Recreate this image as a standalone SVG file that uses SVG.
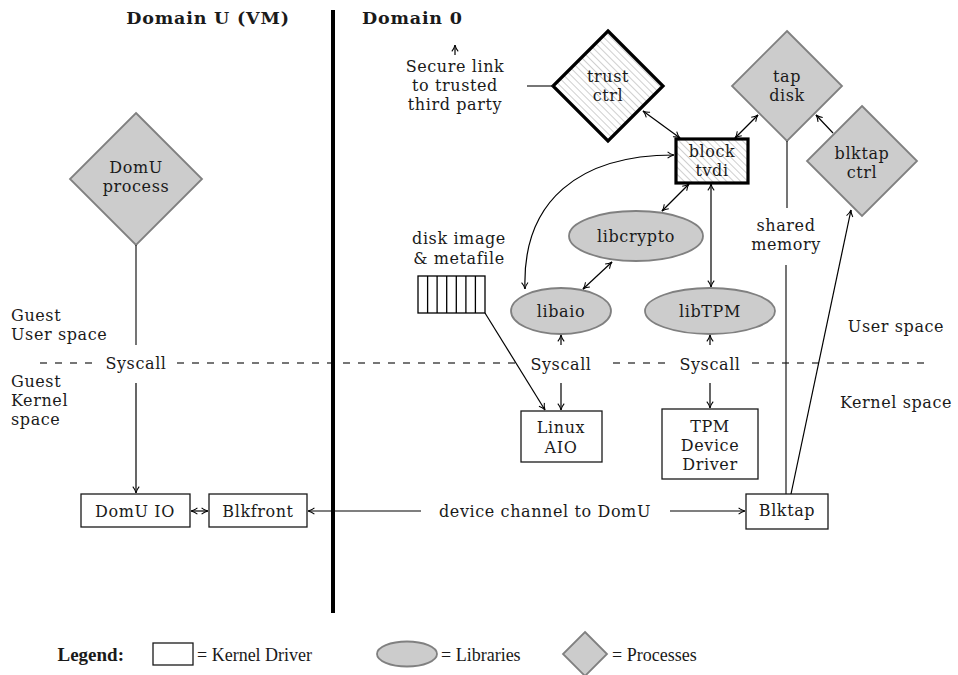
<svg xmlns="http://www.w3.org/2000/svg" width="958" height="675" viewBox="0 0 958 675">
  <style>
    text { font-family: "DejaVu Serif", "Liberation Serif", serif; font-size: 16px; letter-spacing: 0.6px; fill: #1a1a1a; }
    .c { text-anchor: middle; }
    .title { font-weight: bold; font-size: 17.5px; letter-spacing: 0.8px; }
    .leg { font-family: "Liberation Serif", "DejaVu Serif", serif; font-size: 18px; letter-spacing: 0; }
    .legb { font-family: "Liberation Serif", "DejaVu Serif", serif; font-size: 19px; font-weight: bold; letter-spacing: 0; text-anchor: end; }
    .proc { fill: #cccccc; stroke: #808080; stroke-width: 1.8; }
    .lib { fill: #cccccc; stroke: #808080; stroke-width: 1.8; }
    .drv { fill: #ffffff; stroke: #1a1a1a; stroke-width: 1.3; }
    .hatched { fill: url(#hatch); stroke: #000000; stroke-width: 3.2; }
    .conn { fill: none; stroke: #000000; stroke-width: 1.2; }
    .plain { fill: none; stroke: #1a1a1a; stroke-width: 1.2; }
    .both { marker-start: url(#tip); marker-end: url(#tip); }
    .fwd { marker-end: url(#tip); }
    .dash { fill: none; stroke: #4a4a4a; stroke-width: 1.5; stroke-dasharray: 7 8; }
  </style>
  <defs>
    <marker id="tip" viewBox="0 0 10 10" refX="9.5" refY="5" markerUnits="userSpaceOnUse" markerWidth="8" markerHeight="8" orient="auto-start-reverse">
      <path d="M1.5,1 Q5,4 9.5,5 Q5,6 1.5,9" fill="none" stroke="#000" stroke-width="1.3"/>
    </marker>
    <pattern id="hatch" patternUnits="userSpaceOnUse" width="5" height="5" patternTransform="rotate(-45)">
      <rect width="5" height="5" fill="#ffffff"/>
      <line x1="0" y1="0" x2="0" y2="5" stroke="#a0a0a0" stroke-width="1"/>
    </pattern>
  </defs>

  <rect width="958" height="675" fill="#ffffff"/>

  <!-- domain headings and separator -->
  <text class="title c" x="208" y="24">Domain U (VM)</text>
  <text class="title" x="362" y="24">Domain 0</text>
  <line x1="333" y1="10" x2="333" y2="613" stroke="#000" stroke-width="4"/>

  <!-- user / kernel boundary -->
  <g id="syscall-boundary">
    <line class="dash" x1="40" y1="363" x2="100" y2="363"/>
    <line class="dash" x1="177" y1="363" x2="331" y2="363"/>
    <line class="dash" x1="343" y1="363" x2="520" y2="363"/>
    <line class="dash" x1="613" y1="363" x2="665" y2="363"/>
    <line class="dash" x1="752" y1="363" x2="925" y2="363"/>
    <text class="c" x="136" y="369">Syscall</text>
    <text class="c" x="561" y="370">Syscall</text>
    <text class="c" x="710" y="370">Syscall</text>
  </g>

  <!-- region labels -->
  <text x="11" y="321">Guest</text>
  <text x="11" y="340">User space</text>
  <text x="11" y="387">Guest</text>
  <text x="11" y="406">Kernel</text>
  <text x="11" y="425">space</text>
  <text class="c" x="896" y="332">User space</text>
  <text class="c" x="896" y="408">Kernel space</text>

  <!-- nodes -->
  <g id="domu-process">
    <polygon class="proc" points="136,113 202,179 136,245 70,179"/>
    <text class="c" x="136" y="173">DomU</text>
    <text class="c" x="136" y="192">process</text>
  </g>

  <g id="trust-ctrl">
    <polygon class="hatched" points="608,31 663,86 608,141 553,86"/>
    <text class="c" x="608" y="82">trust</text>
    <text class="c" x="608" y="101">ctrl</text>
  </g>

  <g id="secure-link">
    <text class="c" x="455" y="72">Secure link</text>
    <text class="c" x="455" y="91">to trusted</text>
    <text class="c" x="455" y="110">third party</text>
  </g>

  <g id="tap-disk">
    <polygon class="proc" points="787,31 842,86 787,141 732,86"/>
    <text class="c" x="787" y="82">tap</text>
    <text class="c" x="787" y="101">disk</text>
  </g>

  <g id="blktap-ctrl">
    <polygon class="proc" points="862,106 917,161 862,216 807,161"/>
    <text class="c" x="862" y="159">blktap</text>
    <text class="c" x="862" y="178">ctrl</text>
  </g>

  <g id="block-tvdi">
    <rect class="hatched" x="676" y="139" width="72" height="44" stroke-width="3.6"/>
    <text class="c" x="712" y="157">block</text>
    <text class="c" x="712" y="176">tvdi</text>
  </g>

  <g id="libcrypto">
    <ellipse class="lib" cx="636" cy="236" rx="67" ry="25"/>
    <text class="c" x="636" y="242">libcrypto</text>
  </g>

  <g id="libaio">
    <ellipse class="lib" cx="561" cy="311" rx="50" ry="23"/>
    <text class="c" x="561" y="317">libaio</text>
  </g>

  <g id="libtpm">
    <ellipse class="lib" cx="710" cy="311" rx="65" ry="23"/>
    <text class="c" x="710" y="317">libTPM</text>
  </g>

  <g id="disk-image">
    <text class="c" x="459" y="244">disk image</text>
    <text class="c" x="459" y="264">&amp; metafile</text>
    <rect x="418" y="276" width="67" height="37" fill="#fff" stroke="#000" stroke-width="1.3"/>
    <path d="M427.6,276V313M437.1,276V313M446.7,276V313M456.3,276V313M465.9,276V313M475.4,276V313" stroke="#000" stroke-width="1.3"/>
  </g>

  <g id="linux-aio">
    <rect class="drv" x="521" y="411" width="81" height="51"/>
    <text class="c" x="561" y="433">Linux</text>
    <text class="c" x="561" y="453">AIO</text>
  </g>

  <g id="tpm-driver">
    <rect class="drv" x="662" y="409" width="96" height="70"/>
    <text class="c" x="710" y="432">TPM</text>
    <text class="c" x="710" y="451">Device</text>
    <text class="c" x="710" y="470">Driver</text>
  </g>

  <g id="domu-io">
    <rect class="drv" x="81" y="494" width="109" height="33"/>
    <text class="c" x="135" y="517">DomU IO</text>
  </g>

  <g id="blkfront">
    <rect class="drv" x="209" y="494" width="98" height="33"/>
    <text class="c" x="258" y="517">Blkfront</text>
  </g>

  <g id="blktap">
    <rect class="drv" x="746" y="494" width="82" height="35"/>
    <text class="c" x="787" y="516">Blktap</text>
  </g>

  <!-- connectors -->
  <g id="connectors">
    <line class="conn fwd" x1="455" y1="55" x2="455" y2="45"/>
    <line class="plain" x1="527" y1="86" x2="553" y2="86"/>
    <line class="conn both" x1="643" y1="111" x2="680" y2="138"/>
    <line class="conn both" x1="735" y1="138" x2="758" y2="115"/>
    <line class="conn fwd" x1="833" y1="133" x2="816" y2="115"/>
    <line class="conn both" x1="689" y1="184" x2="662" y2="211"/>
    <line class="conn both" x1="711" y1="184" x2="711" y2="287"/>
    <line class="conn both" x1="612" y1="262" x2="583" y2="289"/>
    <path class="conn both" d="M525,289 C522,200 580,155 674,155"/>
    <line class="conn fwd" x1="561" y1="345" x2="561" y2="335"/>
    <line class="conn fwd" x1="561" y1="383" x2="561" y2="410"/>
    <line class="conn fwd" x1="710" y1="345" x2="710" y2="335"/>
    <line class="conn fwd" x1="710" y1="383" x2="710" y2="408"/>
    <line class="conn fwd" x1="485" y1="313" x2="545" y2="410"/>
    <line class="plain" x1="787" y1="141" x2="787" y2="208"/>
    <text class="c" x="786" y="231">shared</text>
    <text class="c" x="786" y="250">memory</text>
    <line class="plain" x1="786" y1="265" x2="786" y2="494"/>
    <line class="conn fwd" x1="791" y1="494" x2="851" y2="210"/>
    <line class="plain" x1="136" y1="245" x2="136" y2="345"/>
    <line class="conn fwd" x1="136" y1="383" x2="136" y2="493"/>
    <line class="conn both" x1="191" y1="511" x2="208" y2="511"/>
    <line class="conn fwd" x1="421" y1="511" x2="308" y2="511"/>
    <text class="c" x="545" y="517">device channel to DomU</text>
    <line class="conn fwd" x1="670" y1="511" x2="745" y2="511"/>
  </g>

  <!-- legend -->
  <g id="legend">
    <text class="legb" x="124" y="661">Legend:</text>
    <rect class="drv" x="153" y="643" width="40" height="22"/>
    <text class="leg" x="197" y="661">= Kernel Driver</text>
    <ellipse class="lib" cx="407" cy="654" rx="30" ry="12.5"/>
    <text class="leg" x="441" y="661">= Libraries</text>
    <polygon class="proc" points="585,632 607,654 585,676 563,654"/>
    <text class="leg" x="612" y="661">= Processes</text>
  </g>
</svg>
